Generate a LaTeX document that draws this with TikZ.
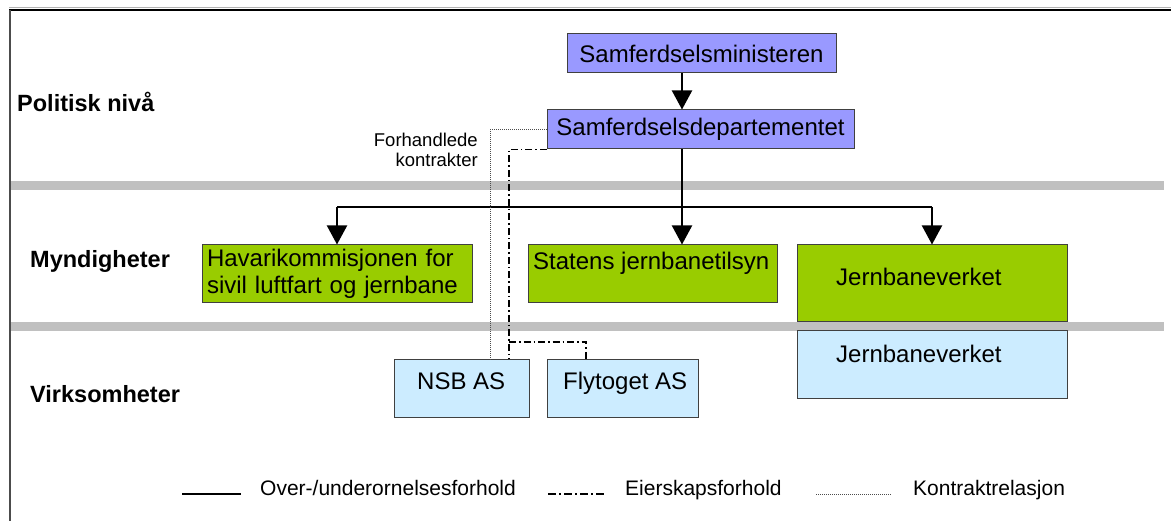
\documentclass[tikz,border=0pt]{standalone}
\usepackage{fontspec}
\setmainfont{Liberation Sans}
\usepackage{tikz}
\usetikzlibrary{arrows.meta,calc}

\definecolor{deplilla}{HTML}{9999FF}
\definecolor{myngronn}{HTML}{99CC00}
\definecolor{virkblaa}{HTML}{CCECFF}
\definecolor{baand}{HTML}{C0C0C0}

\begin{document}
\begin{tikzpicture}[x=1pt, y=-1pt,
    boks/.style={draw=black!75, line width=1, inner sep=0pt},
    bokstekst/.style={font=\fontsize{24}{27.3}\selectfont, inner sep=0pt},
    niva/.style={font=\fontsize{23.5}{28}\selectfont\bfseries, inner sep=0pt, anchor=base west},
    forklaring/.style={font=\fontsize{21}{25}\selectfont, inner sep=0pt, anchor=base west},
    styring/.style={line width=2},
    pil/.style={styring, -{Triangle[length=19pt, width=20pt]}},
    eier/.style={line width=1.5, dash pattern=on 7 off 3 on 1.5 off 3},
    kontrakt/.style={line width=1, black!70, dash pattern=on 1 off 1}]
    \useasboundingbox (0,0) rectangle (1171,521);

    % ramme
    \draw[black!30, line width=1] (9,8) -- (1171,8);
    \draw[line width=2] (9,10.5) -- (1171,10.5);
    \draw[black!70, line width=2] (10,10) -- (10,521);

    % grå skillebånd
    \fill[baand] (11,181) rectangle (1164,190);
    \fill[baand] (11,322) rectangle (1164,331.5);

    % nivåer
    \node[niva] (politisk) at (17,112) {Politisk nivå};
    \node[niva] (myndigheter) at (30,268) {Myndigheter};
    \node[niva] (virksomheter) at (30,403) {Virksomheter};

    % politisk nivå
    \node[boks, bokstekst, fill=deplilla, minimum width=269, minimum height=39] (min) at (701.5,53.5) {Samferdselsministeren};
    \node[boks, bokstekst, fill=deplilla, minimum width=307, minimum height=39] (dep) at (700.5,129.5) {Samferdselsdepartementet};
    \node[font=\fontsize{18.5}{19.5}\selectfont, align=right, inner sep=0pt, anchor=north east] (forh) at (478,133) {Forhandlede\\kontrakter};

    % myndigheter
    \node[boks, bokstekst, fill=myngronn, text width=260, inner xsep=5pt, minimum height=58, align=left] (hav) at (337,274) {Havarikommisjonen for\\sivil luftfart og jernbane};
    \node[boks, fill=myngronn, minimum width=249, minimum height=58] (sjt) at (652.5,274) {};
    \node[bokstekst, anchor=base west] (sjttekst) at (533,270) {Statens jernbanetilsyn};
    \node[boks, fill=myngronn, minimum width=270, minimum height=77] (jbv) at (932,283.5) {};
    \node[bokstekst, anchor=base west] (jbvtekst) at (836,286) {Jernbaneverket};

    % virksomheter
    \node[boks, fill=virkblaa, minimum width=135, minimum height=58] (nsb) at (461.5,389) {};
    \node[bokstekst, anchor=base west] (nsbtekst) at (417,390) {NSB AS};
    \node[boks, fill=virkblaa, minimum width=151, minimum height=58] (fly) at (622.5,389) {};
    \node[bokstekst, anchor=base west] (flytekst) at (563,390) {Flytoget AS};
    \node[boks, fill=virkblaa, minimum width=270, minimum height=68] (jbvb) at (932,365) {};
    \node[bokstekst, anchor=base west] (jbvbtekst) at (836,363) {Jernbaneverket};

    % styringslinjer
    \coordinate (stamme) at (682,207);
    \draw[pil] (stamme |- min.south) -- (stamme |- dep.north);
    \draw[pil] (stamme |- dep.south) -- (stamme |- sjt.north);
    \draw[styring] (hav.north |- stamme) -- (jbv.north |- stamme);
    \draw[pil] (hav.north |- stamme) -- (hav.north);
    \draw[pil] (jbv.north |- stamme) -- (jbv.north);

    % kontrakt og eierskap
    \draw[kontrakt] (dep.west) -| ([xshift=28.5pt]nsb.north);
    \draw[eier] (dep.south west) -| ([xshift=47.5pt]nsb.north);
    \coordinate (eierknekk) at (509,342);
    \draw[eier] (eierknekk) -| ([xshift=-36.5pt]fly.north);

    % forklaring
    \draw[styring] (182,494) -- (241,494);
    \node[forklaring] (tegn1) at (260,495) {Over-/underornelsesforhold};
    \draw[line width=1.5, dash pattern=on 8 off 3 on 2 off 3] (548,494) -- (604,494);
    \node[forklaring] (tegn2) at (625,495) {Eierskapsforhold};
    \draw[kontrakt] (816,494) -- (892,494);
    \node[forklaring] (tegn3) at (913,495) {Kontraktrelasjon};
\end{tikzpicture}
\end{document}
